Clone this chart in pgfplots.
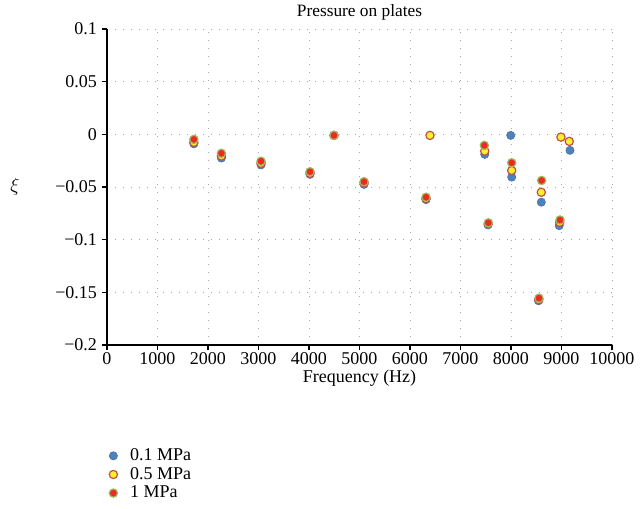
\documentclass[border=0pt]{standalone}
\usepackage{fontspec}
\setmainfont{Liberation Serif}
\usepackage{pgfplots}
\pgfplotsset{compat=1.18}
\definecolor{cblue}{RGB}{79,129,189}
\definecolor{cyel}{RGB}{255,240,40}
\definecolor{credge}{RGB}{192,80,77}
\definecolor{cred}{RGB}{240,40,35}
\definecolor{cgreen}{RGB}{155,187,89}
\begin{document}
\begin{tikzpicture}
\path[use as bounding box] (-80.25pt,-122.25pt) rectangle (399.75pt,258.75pt);
\begin{axis}[
  at={(0,0)}, anchor=south west,
  scale only axis,
  width=378.75pt, height=237pt,
  xmin=0, xmax=10000, ymin=-0.2, ymax=0.1,
  axis lines*=left,
  tick align=outside,
  scaled x ticks=false, scaled y ticks=false,
  xtick={0,1000,...,10000},
  xticklabels={0,1000,2000,3000,4000,5000,6000,7000,8000,9000,10000},
  ytick={-0.2,-0.15,-0.1,-0.05,0,0.05,0.1},
  yticklabels={−0.2,−0.15,−0.1,−0.05,0,0.05,0.1},
  tick style={black, thick},
  major tick length=4pt,
  grid=major,
  grid style={gray!70, line width=0.6pt, dash pattern=on 0.6pt off 5.4pt},
  axis line style={black, line width=0.8pt},
  ticklabel style={font=\fontsize{13.5}{15}\selectfont},
  xticklabel style={yshift=2pt},
  title={Pressure on plates},
  title style={font=\fontsize{13}{14}\selectfont, yshift=-3pt},
  xlabel={Frequency (Hz)},
  xlabel style={font=\fontsize{13.5}{15}\selectfont, yshift=2.5pt},
  ylabel={$\xi$},
  ylabel style={rotate=-90, font=\fontsize{14}{15}\selectfont, at={(rel axis cs:0,0.5)}, anchor=center, xshift=-69pt},
  legend style={at={(-0.004,-0.312)}, anchor=north west, draw=none, fill=none,
    font=\fontsize{13.5}{15}\selectfont, row sep=0pt, nodes={inner sep=1.5pt, text depth=2pt}},
  legend cell align=left,
  legend entries={\hspace{8pt}0.1 MPa, \hspace{8pt}0.5 MPa, \hspace{8pt}1 MPa},
  clip=false,
]
\addplot[only marks, mark=*, mark size=3.1pt, mark options={fill=cblue, draw=cblue!85!black, line width=0.4pt}]
coordinates {(1720,-0.009) (2265,-0.0225) (3050,-0.029) (4020,-0.038) (4495,-0.001)
 (5090,-0.0475) (6317,-0.062) (7480,-0.019) (7545,-0.086) (7994,-0.001) (8014,-0.0406)
 (8545,-0.158) (8600,-0.0644) (8955,-0.0867) (9168,-0.0152)};
\addplot[only marks, mark=*, mark size=3.1pt, mark options={fill=cyel, draw=credge, line width=0.9pt}]
coordinates {(1720,-0.0076) (2265,-0.0205) (3050,-0.0275) (4020,-0.037) (4495,-0.001)
 (5090,-0.046) (6317,-0.061) (6396,-0.001) (7480,-0.0159) (7548,-0.085) (8014,-0.0343)
 (8550,-0.157) (8600,-0.055) (8965,-0.0835) (8990,-0.0026) (9154,-0.0067)};
\addplot[only marks, mark=*, mark size=3.1pt, mark options={fill=cred, draw=cgreen, line width=0.9pt}]
coordinates {(1720,-0.0048) (2265,-0.018) (3050,-0.0255) (4020,-0.0355) (4495,-0.001)
 (5090,-0.045) (6317,-0.0597) (7472,-0.0105) (7551,-0.084) (8014,-0.027)
 (8554,-0.1555) (8607,-0.0438) (8970,-0.0813)};
\end{axis}
\end{tikzpicture}
\end{document}
